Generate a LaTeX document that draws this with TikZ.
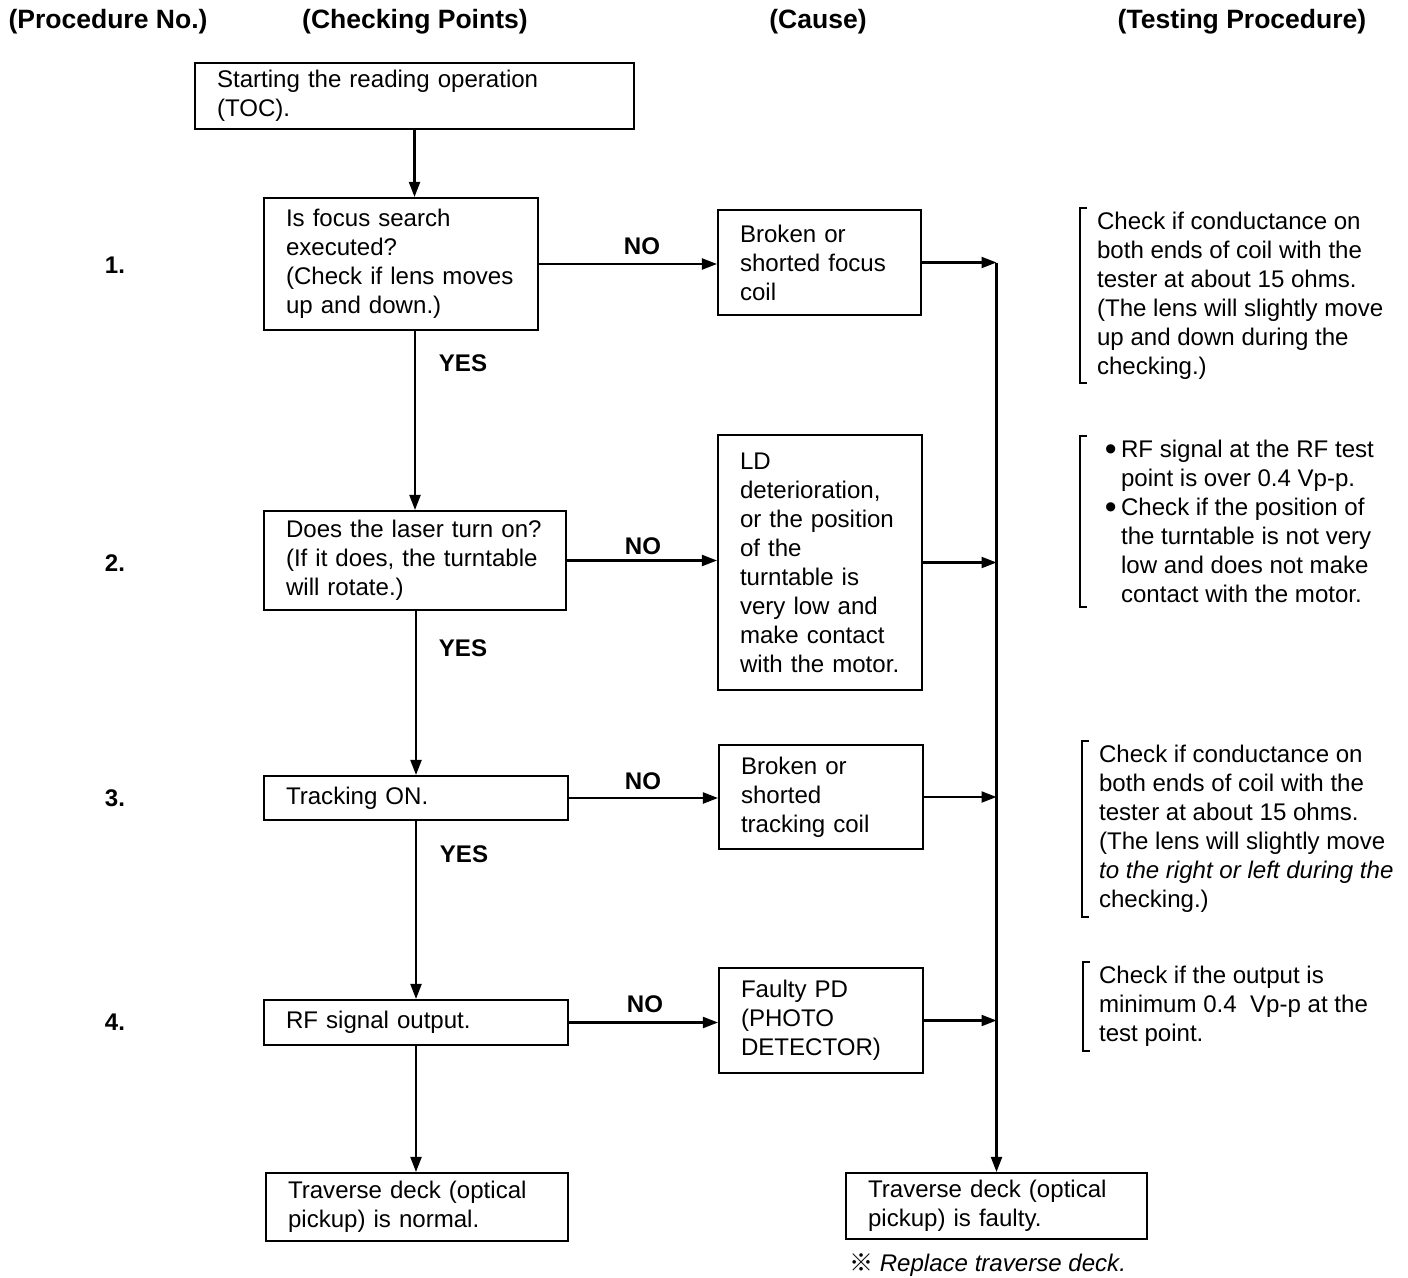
\documentclass[tikz,border=0pt]{standalone}
\usepackage{fontspec}
\setmainfont{Liberation Sans}
\newfontfamily\cjk{Noto Sans CJK JP}
\usetikzlibrary{calc,positioning,arrows.meta}

\begin{document}
\begin{tikzpicture}[x=0.02cm, y=-0.02cm, line width=1.2pt,
  font=\fontsize{13.7}{16.5}\selectfont,
  >={Triangle[length=0.3cm,width=0.22cm]},
  box/.style={draw, align=left, inner xsep=0.44cm, inner ysep=0pt},
  hd/.style={font=\fontsize{15.1}{18}\selectfont\bfseries, inner sep=1pt},
  lbl/.style={font=\fontsize{13.7}{16.5}\selectfont\bfseries, inner sep=1pt},
  note/.style={align=left, inner xsep=0pt, inner ysep=0.06cm, anchor=west}]
\useasboundingbox (0,0) rectangle (1408,1277);
%headings
\node[hd] (h1) at (108,22) {(Procedure No.)};
\node[hd] (h2) at (415,22) {(Checking Points)};
\node[hd] (h3) at (818,22) {(Cause)};
\node[hd] (h4) at (1242,22) {(Testing Procedure)};
\foreach \n/\y in {1/265, 2/563, 3/798, 4/1022}{\node[lbl] (n\n) at (115,\y) {\n.};}
%checking points
\node[box, text width=7.9cm, minimum height=1.32cm] (start) at (414.5,96) {Starting the reading operation\\(TOC).};
\node[box, text width=4.6cm, minimum height=2.64cm] (q1) at (401,264) {Is focus search\\executed?\\(Check if lens moves\\up and down.)};
\node[box, text width=5.16cm, minimum height=1.98cm] (q2) at (415,560.5) {Does the laser turn on?\\(If it does, the turntable\\will rotate.)};
\node[box, text width=5.2cm, minimum height=0.88cm] (q3) at (416,798) {Tracking ON.};
\node[box, text width=5.2cm, minimum height=0.9cm] (q4) at (416,1022.5) {RF signal output.};
\node[box, text width=5.16cm, minimum height=1.36cm] (ok) at (417,1207) {Traverse deck (optical\\pickup) is normal.};
%causes
\node[box, text width=3.18cm, minimum height=2.1cm] (c1) at (819.5,262.5) {Broken or\\shorted focus\\coil};
\node[box, text width=3.2cm, minimum height=5.1cm] (c2) at (820,562.5) {LD\\deterioration,\\or the position\\of the\\turntable is\\very low and\\make contact\\with the motor.};
\node[box, text width=3.2cm, minimum height=2.08cm] (c3) at (821,797) {Broken or\\shorted\\tracking coil};
\node[box, text width=3.2cm, minimum height=2.1cm] (c4) at (821,1020.5) {Faulty PD\\(PHOTO\\DETECTOR)};
\node[box, text width=5.14cm, minimum height=1.32cm] (bad) at (996.5,1206) {Traverse deck (optical\\pickup) is faulty.};
\node[note] (rep) at (848,1265) {{\cjk ※} \textit{Replace traverse deck.}};
%testing procedure
\node[note] (t1) at (1096,295.5) {Check if conductance on\\both ends of coil with the\\tester at about 15 ohms.\\(The lens will slightly move\\up and down during the\\checking.)};
\node[note] (t2) at (1120,521.5) {\llap{\raisebox{-0.1em}{\scalebox{1.4}{\textbullet}}\hspace{2.5pt}}RF signal at the RF test\\point is over 0.4 Vp-p.\\\llap{\raisebox{-0.1em}{\scalebox{1.4}{\textbullet}}\hspace{2.5pt}}Check if the position of\\the turntable is not very\\low and does not make\\contact with the motor.};
\node[note] (t3) at (1098,829) {Check if conductance on\\both ends of coil with the\\tester at about 15 ohms.\\(The lens will slightly move\\\textit{to the right or left during the}\\checking.)};
\node[note] (t4) at (1098,1006.5) {Check if the output is\\minimum 0.4\ \ Vp-p at the\\test point.};
\foreach \t/\d in {t1/16, t2/40, t3/16, t4/15}{
  \draw ($(\t.north west)+(-\d+7,0)$) -- ($(\t.north west)+(-\d,0)$) -- ($(\t.south west)+(-\d,0)$) -- ++(7,0);
}
%YES path
\draw[->] (start.south) -- (start.south |- q1.north);
\draw[->] (q1.south -| q2.north) -- (q2.north);
\draw[->] (q2.south -| q3.north) -- (q3.north);
\draw[->] (q3.south) -- (q4.north);
\draw[->] (q4.south) -- (q4.south |- ok.north);
\node[lbl] (y1) at (463,363) {YES};
\node[lbl] (y2) at (463,648) {YES};
\node[lbl] (y3) at (464,854) {YES};
%NO path
\foreach \i in {1,...,4}{
  \draw[->] (q\i.east) -- (q\i.east -| c\i.west);
  \draw[->] (c\i.east) -- (c\i.east -| bad.north);
}
\draw[->] (c1.east -| bad.north) -- (bad.north);
\node[lbl] (no1) at (642,246) {NO};
\node[lbl] (no2) at (643,546) {NO};
\node[lbl] (no3) at (643,781) {NO};
\node[lbl] (no4) at (645,1004) {NO};
\end{tikzpicture}
\end{document}
